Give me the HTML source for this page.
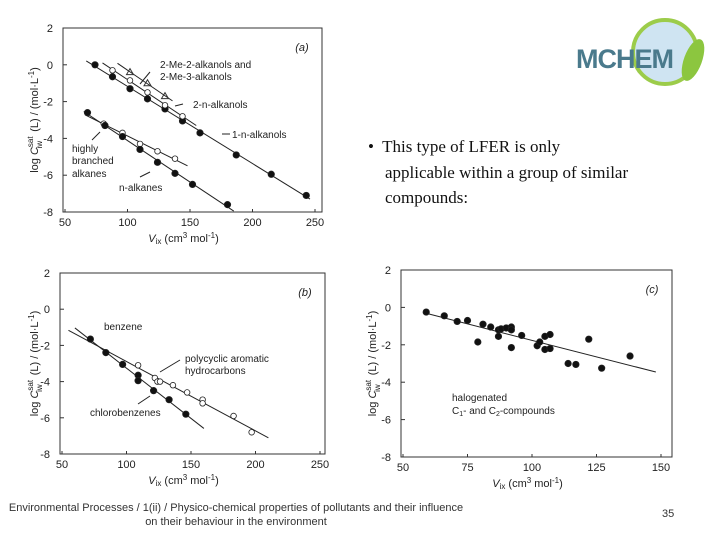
<!DOCTYPE html>
<html><head><meta charset="utf-8"><style>
body{margin:0;width:720px;height:540px;background:#fff;overflow:hidden;position:relative;font-family:"Liberation Sans",sans-serif}
.bul{position:absolute;left:368px;top:134px;width:330px;font-family:"Liberation Serif",serif;font-size:17px;line-height:25.5px;color:#111}
.foot{position:absolute;left:0;top:501px;width:472px;text-align:center;font-size:11px;line-height:14px;color:#333}
.pg{position:absolute;left:662px;top:508px;font-size:11px;color:#333}
</style></head><body>
<svg id="svg" width="720" height="540" style="position:absolute;left:0;top:0"></svg>
<div class="bul">•&nbsp; This type of LFER is only<br>&nbsp;&nbsp;&nbsp;&nbsp;applicable within a group of similar<br>&nbsp;&nbsp;&nbsp;&nbsp;compounds:</div>
<div class="foot">Environmental Processes / 1(ii) / Physico-chemical properties of pollutants and their influence<br>on their behaviour in the environment</div>
<div class="pg">35</div>
<script>
// Panel a data
const aAlkanolsX=[74,88,102,116,130,144,158,187,215,243];
const aAlkanolsY=[0,-0.65,-1.3,-1.85,-2.4,-3.05,-3.7,-4.9,-5.95,-7.1];
const a2AlkanolsX=[88,102,116,130,144];
const a2AlkanolsY=[-0.3,-0.85,-1.5,-2.2,-2.8];
const aMeX=[102,116,130];
const aMeY=[-0.4,-1.0,-1.7];
const aBranchX=[81,96,110,124,138];
const aBranchY=[-3.2,-3.7,-4.3,-4.7,-5.1];
const aNAlkX=[68,82,96,110,124,138,152,180];
const aNAlkY=[-2.6,-3.3,-3.9,-4.6,-5.3,-5.9,-6.5,-7.6];
// Panel b data
const bClX=[72,84,97,109,109,121,133,146];
const bClY=[-1.65,-2.4,-3.05,-3.65,-3.95,-4.5,-5.0,-5.8];
const bPahX=[109,122,124,126,136,147,159,159,183,197];
const bPahY=[-3.1,-3.8,-4.0,-4.0,-4.2,-4.6,-5.0,-5.2,-5.9,-6.8];
// Panel c data
const cX=[59,66,71,75,79,81,84,87,87,88,90,92,92,92,96,102,103,105,105,107,107,114,117,122,127,138];
const cY=[-0.25,-0.45,-0.75,-0.7,-1.85,-0.9,-1.05,-1.2,-1.55,-1.15,-1.1,-1.05,-1.2,-2.15,-1.5,-2.05,-1.85,-1.55,-2.25,-1.45,-2.2,-3.0,-3.05,-1.7,-3.25,-2.6];
const yTicks=[2,0,-2,-4,-6,-8];
const xTicksAB=[50,100,150,200,250];
const xTicksC=[50,75,100,125,150];

const svg=document.getElementById('svg');const NS='http://www.w3.org/2000/svg';
function el(t,a,p){const e=document.createElementNS(NS,t);for(const k in a)e.setAttribute(k,a[k]);(p||svg).appendChild(e);return e;}
function txt(s,x,y,o,p){const t=el('text',Object.assign({x:x,y:y,'font-size':11,fill:'#222','font-family':'Liberation Sans, sans-serif'},o||{}),p);t.textContent=s;return t;}
function panel(name,x0,x1,px0,px1,py0,py1,right,xt,label,ylab){
 const g=el('g',{});
 
 
 const sx=v=>px0+(v-x0)/(x1-x0)*(px1-px0);
 const sy=v=>py0+(2-v)/10*(py1-py0);
 el('rect',{x:px0-2,y:py0,width:right-px0+2,height:py1-py0,fill:'none',stroke:'#333','stroke-width':1},g);
 yTicks.forEach(v=>{el('line',{x1:px0-2,x2:px0+2,y1:sy(v),y2:sy(v),stroke:'#333'},g);txt(String(v),px0-12,sy(v)+4,{'text-anchor':'end'},g);});
 xt.forEach(v=>{el('line',{x1:sx(v),x2:sx(v),y1:py1,y2:py1-3,stroke:'#333'},g);txt(v,sx(v),py1+14,{'text-anchor':'middle'},g);});
 txt('('+label+')',right-20,py0+23,{'text-anchor':'middle','font-style':'italic'},g);
 const xl=txt('',(px0+right)/2-10,py1+30,{'text-anchor':'middle'},g);xl.innerHTML='<tspan font-style="italic">V</tspan><tspan font-size="8" dy="2">ix</tspan><tspan dy="-2">  (cm</tspan><tspan font-size="8" dy="-4">3</tspan><tspan dy="4"> mol</tspan><tspan font-size="8" dy="-4">-1</tspan><tspan dy="4">)</tspan>';
 const yl=txt('',0,0,{'text-anchor':'middle',transform:'translate('+(ylab)+','+((py0+py1)/2)+') rotate(-90)'},g);yl.innerHTML='log <tspan font-style="italic">C</tspan><tspan font-size="8" dy="-5">sat</tspan><tspan font-size="8" dx="-12" dy="9">iw</tspan><tspan dx="6" dy="-4"> (L) / (mol·L</tspan><tspan font-size="8" dy="-4">-1</tspan><tspan dy="4">)</tspan>';
 return {g,sx,sy};
}
function pts(P,xs,ys,open,name,tri){xs.forEach((x,i)=>{let c;
 if(tri)c=el('path',{d:`M${P.sx(x)},${P.sy(ys[i])-3.5}l3.5,6h-7z`,fill:'none',stroke:'#333'},P.g);
 else c=el('circle',{cx:P.sx(x),cy:P.sy(ys[i]),r:open?2.8:3.2,fill:open?'#fff':'#111',stroke:'#222','stroke-width':0.8},P.g);
 
 });}
function fit(P,xs,ys,xa,xb,name){const n=xs.length,mx=xs.reduce((a,b)=>a+b)/n,my=ys.reduce((a,b)=>a+b)/n;let num=0,den=0;xs.forEach((x,i)=>{num+=(x-mx)*(ys[i]-my);den+=(x-mx)**2;});const s=num/den,b=my-s*mx;
 const l=el('line',{x1:P.sx(xa),y1:P.sy(s*xa+b),x2:P.sx(xb),y2:P.sy(s*xb+b),stroke:'#222','stroke-width':1},P.g);
 
 }
// Panel a
const A=panel('panel-a-alkanes-alkanols',50,250,65,315,28,212,322,xTicksAB,'a',38);
fit(A,aAlkanolsX,aAlkanolsY,67,246,'fit-1-n-alkanols');fit(A,a2AlkanolsX,a2AlkanolsY,80,155,'fit-2-n-alkanols');fit(A,aMeX,aMeY,92,136,'fit-2-me-alkanols');
fit(A,aBranchX,aBranchY,66,148,'fit-branched-alkanes');fit(A,aNAlkX,aNAlkY,65,185,'fit-n-alkanes');
pts(A,aAlkanolsX,aAlkanolsY,false,'point-1-n-alkanol');pts(A,a2AlkanolsX,a2AlkanolsY,true,'point-2-n-alkanol');pts(A,aMeX,aMeY,true,'point-2-me-alkanol',true);
pts(A,aBranchX,aBranchY,true,'point-branched-alkane');pts(A,aNAlkX,aNAlkY,false,'point-n-alkane');
txt('2-Me-2-alkanols and',160,68,{'font-size':10},A.g);txt('2-Me-3-alkanols',160,80,{'font-size':10},A.g);
txt('2-n-alkanols',193,108,{'font-size':10},A.g);txt('1-n-alkanols',232,138,{'font-size':10},A.g);
txt('highly',72,152,{'font-size':10},A.g);txt('branched',72,164,{'font-size':10},A.g);txt('alkanes',72,177,{'font-size':10},A.g);txt('n-alkanes',119,191,{'font-size':10},A.g);
[[150,72,140,84],[183,104,175,106],[230,134,222,134],[100,132,92,140],[150,172,140,177]].forEach(l=>el('line',{x1:l[0],y1:l[1],x2:l[2],y2:l[3],stroke:'#222'},A.g));
// Panel b
const B=panel('panel-b-aromatics',50,250,62,320,273,454,325,xTicksAB,'b',38);
fit(B,bClX,bClY,60,160,'fit-chlorobenzenes');fit(B,bPahX,bPahY,55,210,'fit-pah');
pts(B,bClX,bClY,false,'point-chlorobenzene');pts(B,bPahX,bPahY,true,'point-pah');
txt('benzene',104,330,{'font-size':10},B.g);txt('polycyclic aromatic',185,362,{'font-size':10},B.g);txt('hydrocarbons',185,374,{'font-size':10},B.g);txt('chlorobenzenes',90,416,{'font-size':10},B.g);
[[180,360,160,372],[150,396,138,404]].forEach(l=>el('line',{x1:l[0],y1:l[1],x2:l[2],y2:l[3],stroke:'#222'},B.g));
// Panel c
const C=panel('panel-c-halogenated',50,150,403,661,270,457,672,xTicksC,'c',376);
fit(C,cX,cY,58,148,'fit-halogenated');pts(C,cX,cY,false,'point-halogenated');
txt('halogenated',452,401,{'font-size':10},C.g);const ct=txt('',452,414,{'font-size':10},C.g);ct.innerHTML='C<tspan font-size="7" dy="2">1</tspan><tspan dy="-2">- and C</tspan><tspan font-size="7" dy="2">2</tspan><tspan dy="-2">-compounds</tspan>';
// Logo
const L=el('g',{});


el('circle',{cx:665,cy:52,r:32,fill:'#cfe4f2',stroke:'#9ccc4a','stroke-width':4},L);
el('ellipse',{cx:693,cy:60,rx:9,ry:22,fill:'#8cc63f',transform:'rotate(20 693 60)'},L);
txt('MCHEM',576,68,{'font-size':27,'font-weight':'bold',fill:'#4a7a8c','letter-spacing':'-1'},L);
</script>
</body></html>
